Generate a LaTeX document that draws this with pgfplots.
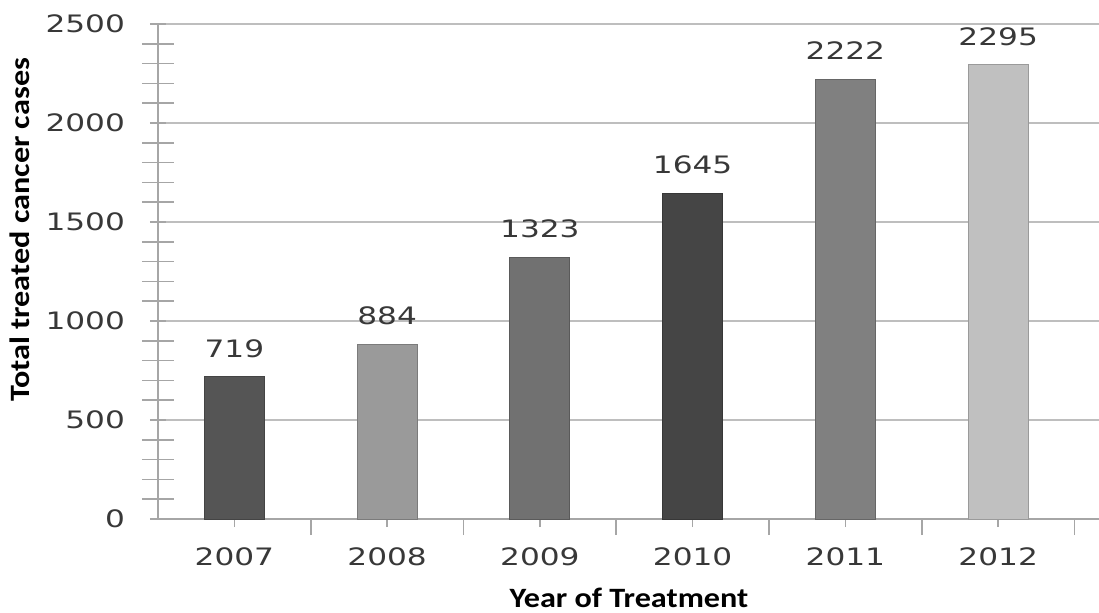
\documentclass[border=0pt]{standalone}
\usepackage{fontspec}
\setmainfont{DejaVu Sans}[FakeStretch=1.3]
\newfontfamily\titlefont{Carlito}[FakeStretch=1.15]
\usepackage{pgfplots}
\pgfplotsset{compat=1.18}
\definecolor{gridc}{HTML}{BEBEBE}
\definecolor{axc}{HTML}{A6A6A6}
\definecolor{txt}{HTML}{383838}
\definecolor{cA}{HTML}{555555}
\definecolor{cB}{HTML}{9A9A9A}
\definecolor{cC}{HTML}{717171}
\definecolor{cD}{HTML}{454545}
\definecolor{cE}{HTML}{808080}
\definecolor{cF}{HTML}{C0C0C0}
\begin{document}
\begin{tikzpicture}
\useasboundingbox (-79pt,-46.5pt) rectangle (470.5pt,259.5pt);
\begin{axis}[
  scale only axis,
  width=470.5pt, height=247.5pt,
  xmin=-0.5, xmax=5.66,
  ymin=0, ymax=2500,
  ybar, bar width=30pt,
  /pgf/number format/assume math mode=true,
  /pgf/number format/1000 sep={},
  axis x line*=bottom, axis y line*=left,
  axis line style={axc, line width=0.8pt},
  xtick={0,1,2,3,4,5},
  xticklabels={2007,2008,2009,2010,2011,2012},
  extra x ticks={0.5,1.5,2.5,3.5,4.5,5.5},
  extra x tick labels={},
  extra x tick style={major tick length=8pt, tick align=outside, xmajorgrids=false},
  ytick={0,500,1000,1500,2000,2500},
  minor y tick num=4,
  ymajorgrids,
  major grid style={gridc, line width=0.8pt},
  tick style={axc, line width=0.8pt},
  tick align=center,
  major tick length=8pt,
  minor tick length=16pt,
  ticklabel style={font=\fontsize{12}{14}\selectfont, text=txt},
  xticklabel style={yshift=-7pt},
  yticklabel style={xshift=-9pt},
  ylabel={\titlefont\bfseries Total treated cancer cases},
  xlabel={\titlefont\bfseries Year of Treatment},
  label style={font=\fontsize{14}{16}\selectfont, text=black},
  ylabel style={at={(axis description cs:-0.1467,0.584)}, rotate=0, anchor=center},
  xlabel style={at={(axis description cs:0.5005,-0.160)}, anchor=center},
  nodes near coords,
  nodes near coords style={font=\fontsize{12}{14}\selectfont, text=txt, yshift=6pt},
  clip=false,
]
\addplot[bar shift=0pt, fill=cA, draw=cA!80!black] coordinates {(0,719)};
\addplot[bar shift=0pt, fill=cB, draw=cB!80!black] coordinates {(1,884)};
\addplot[bar shift=0pt, fill=cC, draw=cC!80!black] coordinates {(2,1323)};
\addplot[bar shift=0pt, fill=cD, draw=cD!80!black] coordinates {(3,1645)};
\addplot[bar shift=0pt, fill=cE, draw=cE!80!black] coordinates {(4,2222)};
\addplot[bar shift=0pt, fill=cF, draw=cF!80!black] coordinates {(5,2295)};
\end{axis}
\end{tikzpicture}
\end{document}
